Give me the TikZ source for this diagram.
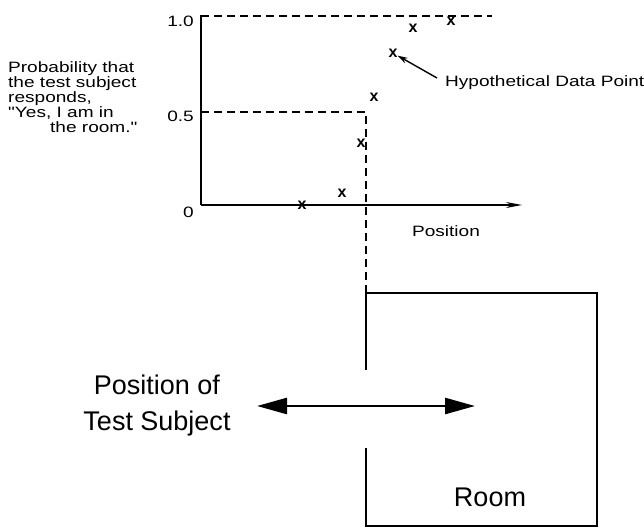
\documentclass[tikz,border=0pt]{standalone}
\usepackage{fontspec}
\setmainfont{Liberation Sans}
\newfontfamily\labelfont{Liberation Sans}[FakeStretch=1.27]
\usetikzlibrary{arrows.meta}

\begin{document}
\begin{tikzpicture}[x=1pt, y=-1pt,
  every node/.style={font=\labelfont\fontsize{15}{15}\selectfont, inner sep=0pt},
  axis/.style={line width=1.4pt},
  guide/.style={line width=1.3pt, dash pattern=on 8pt off 5pt},
  wall/.style={line width=2.8pt},
  datamark/.style={font=\rmfamily\bfseries\fontsize{16}{16}\selectfont},
  bigtext/.style={font=\rmfamily\fontsize{27}{36}\selectfont}]
\useasboundingbox (0,0) rectangle (644,530);

% Assi del grafico
\coordinate (orig) at (201,205);
\coordinate (ytop) at (201,15);
\coordinate (xend) at (522,205);
\draw[axis] (ytop) -- (orig);
\draw[axis, -{Stealth[length=16pt,width=6pt]}] (orig) -- (xend);

% Etichette sull'asse y
\node[anchor=east] (tone) at (194,21) {1.0};
\node[anchor=east] (thalf) at (194,116) {0.5};
\node[anchor=east] (tzero) at (194,212) {0};
\node[anchor=north west, align=left] (ylabel) at (8,61) {Probability that\\the test subject\\responds,\\"Yes, I am in\\\hspace*{42pt}the room."};
\node (poslabel) at (446,231) {Position};

% Stanza (parete sinistra con apertura)
\coordinate (roomtl) at (366,293);
\coordinate (roomtr) at (597,293);
\coordinate (roombr) at (597,526);
\coordinate (roombl) at (366,526);
\coordinate (gaptop) at (366,370);
\coordinate (gapbot) at (366,448);
\draw[wall] (gaptop) -- (roomtl) -- (roomtr) -- (roombr) -- (roombl) -- (gapbot);

% Linee tratteggiate di riferimento
\coordinate (one) at (201,16);
\coordinate (oneend) at (492,16);
\coordinate (half) at (201,112);
\coordinate (halfcorner) at (366,112);
\draw[guide] (one) -- (oneend);
\draw[guide] (half) -- (halfcorner) -- (roomtl);

% Punti sperimentali
\foreach \px/\py [count=\i] in {302/205, 342/193, 361/143, 374/97, 393/53, 413/28, 451/21}
  \node[datamark] (p\i) at (\px,\py) {x};

% Punto ipotetico
\node[anchor=west] (hyplabel) at (445,83) {Hypothetical Data Point};
\draw[line width=1.4pt, -{Stealth[length=10pt,width=6pt]}] ([xshift=-8pt,yshift=5pt]hyplabel.west) -- (p5);

% Soggetto e freccia
\coordinate (arrl) at (257,406);
\coordinate (arrr) at (475,406);
\draw[line width=2.6pt, {Triangle[length=30pt,width=16pt]}-{Triangle[length=30pt,width=16pt]}] (arrl) -- (arrr);
\node[bigtext, align=center] (subj) at (157,406) {Position of\\Test Subject};
\node[bigtext] (room) at (490,497) {Room};

\end{tikzpicture}
\end{document}
